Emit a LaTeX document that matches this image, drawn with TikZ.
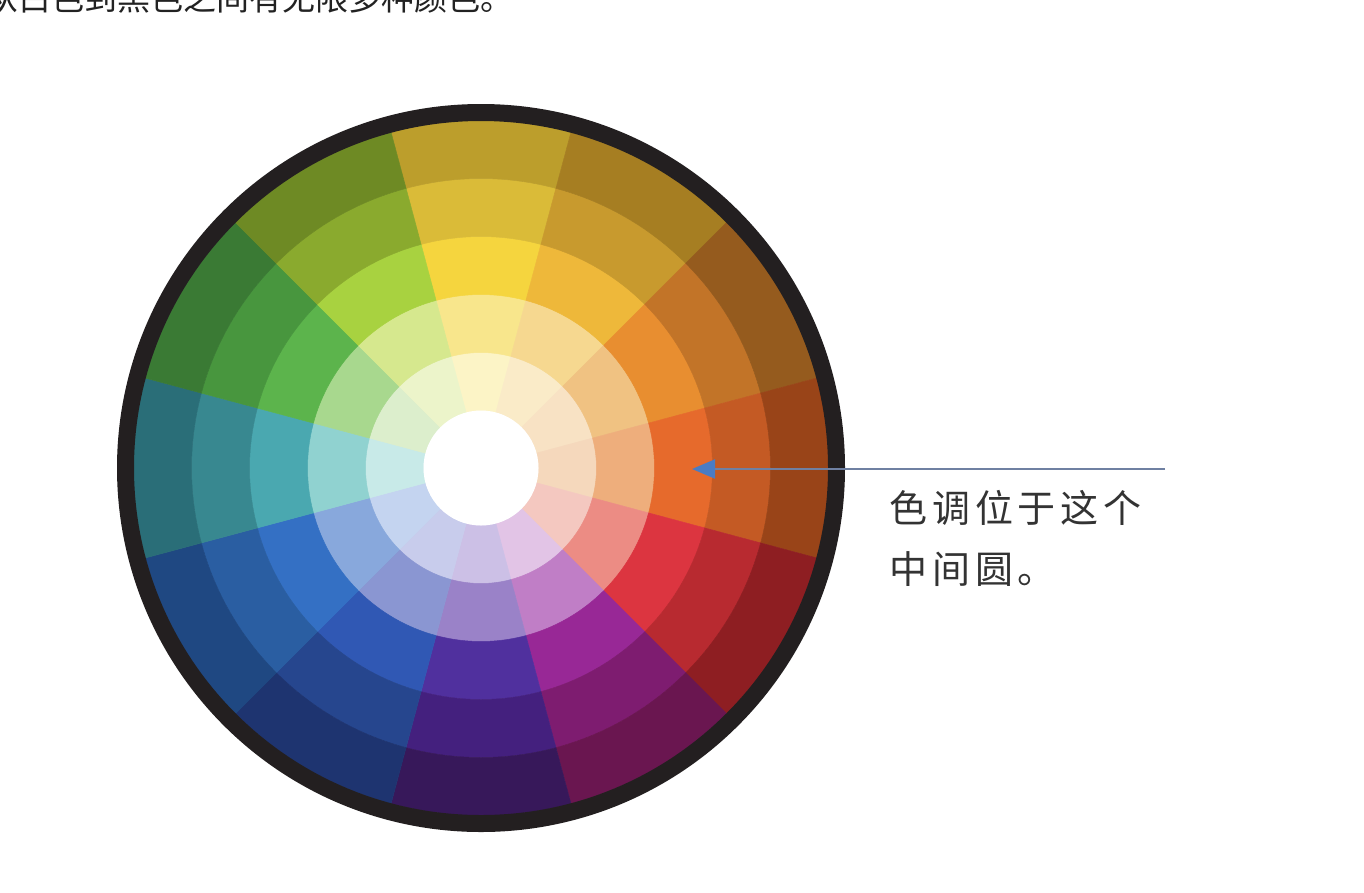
\documentclass[tikz,border=0pt]{standalone}
\usepackage{fontspec}
\newfontfamily\cjk{Noto Sans CJK SC}
\newfontfamily\cjkspaced[LetterSpace=13]{Noto Sans CJK SC}
\usetikzlibrary{arrows.meta}
\definecolor{ringblack}{HTML}{231F20}
\definecolor{textdark}{HTML}{222222}
\definecolor{captiongray}{HTML}{333333}
\definecolor{linegray}{HTML}{6F80A2}
\definecolor{arrowblue}{HTML}{4A7CC4}
\tikzset{
  sector/.style={fill=#1, draw=#1, line width=0.5pt},
  title/.style={anchor=base west, inner sep=0pt, text=textdark, font=\cjk\fontsize{33}{33}\selectfont},
  caption/.style={anchor=base west, inner sep=0pt, text=captiongray, font=\cjkspaced\fontsize{38}{38}\selectfont},
  pointer/.style={draw=linegray, line width=2pt, -{Triangle[length=23pt,width=19pt,fill=arrowblue,color=arrowblue]}}
}
\begin{document}
\begin{tikzpicture}[x=1pt,y=-1pt]
\useasboundingbox[fill=white] (0,0) rectangle (1364,892);
\begin{scope}[shift={(481,468)}]
  \foreach \ang/\cols in {
    90/{FCF4C6,F8E68C,F5D53E,DABB38,BC9E2C},
    60/{FAEBC8,F6D890,EEB83A,C89A2E,A67E22},
    30/{F8E2C4,F0C282,E88E30,C27428,955B1E},
    0/{F5D8BC,EEAE7C,E66A2C,C45A24,994418},
    -30/{F4C8C0,EC8C84,DC3540,B82A30,8E1E22},
    -60/{E2C4E6,C07EC6,982896,7E1C70,6A1650},
    -90/{CCC0E6,9A82C8,50309E,44207E,37185A},
    -120/{C8CCEC,8A96D2,3058B4,26468E,1E3470},
    -150/{C4D4F0,88A8DC,3470C4,2A5EA2,1F4882},
    180/{C8EAE8,90D2D0,4AA8B0,388890,2A6E78},
    150/{DCEECC,A8D88E,5CB44C,48963E,3A7A34},
    120/{ECF4CA,D6E88E,A8D240,8AAA2E,6E8A24}} {
    \foreach \hex [count=\ring] in \cols {
      \definecolor{tmpc}{HTML}{\hex}
      \pgfmathsetmacro\ri{57.5+58*(\ring-1)}
      \pgfmathsetmacro\ro{\ri+58}
      \pgfmathsetmacro\aa{\ang+15}
      \pgfmathsetmacro\bb{\ang-15}
      \path[sector=tmpc] (\aa:\ri pt) -- (\aa:\ro pt)
        arc[start angle=\aa, end angle=\bb, radius=\ro pt]
        -- (\bb:\ri pt)
        arc[start angle=\bb, end angle=\aa, radius=\ri pt] -- cycle;
    }
  }
  \fill[white] (0,0) circle[radius=57.5pt];
  \draw[ringblack, line width=17pt] (0,0) circle[radius=355.5pt];
\end{scope}
\node[title] (titletext) at (-15,10.5) {从白色到黑色之间有无限多种颜色。};
\coordinate (linestart) at (1165,469);
\coordinate (tip) at (692,469);
\draw[pointer] (linestart) -- (tip);
\node[caption] (caption1) at (889,522.5) {色调位于这个};
\node[caption] (caption2) at (889,583.5) {中间圆。};
\end{tikzpicture}
\end{document}
